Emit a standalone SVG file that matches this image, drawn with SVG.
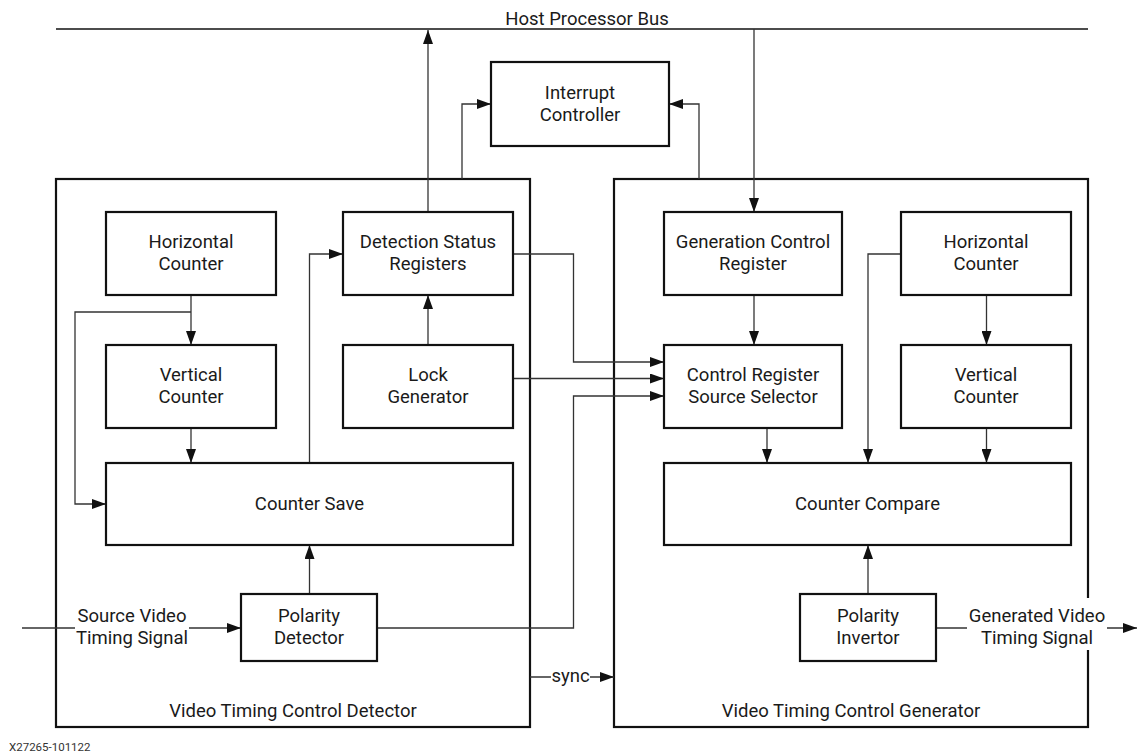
<svg xmlns="http://www.w3.org/2000/svg" width="1138" height="755" viewBox="0 0 1138 755">
<style>
  .box { fill: #fff; stroke: #111; stroke-width: 2.2; }
  .frame { fill: none; stroke: #111; stroke-width: 2.2; }
  .wire { fill: none; stroke: #333; stroke-width: 1.3; }
  .arr { marker-end: url(#ah); }
  text { font-family: Roboto, "Liberation Sans", sans-serif; font-size: 18.5px; fill: #1a1a1a; }
  .c { text-anchor: middle; }
  .bg { fill: #fff; stroke: none; }
  .fig { font-size: 11.5px; fill: #333; }
</style>
<defs>
  <marker id="ah" markerUnits="userSpaceOnUse" markerWidth="14" markerHeight="10" refX="14" refY="5" orient="auto">
    <path d="M0,0 L14,5 L0,10 z" fill="#111"/>
  </marker>
</defs>
<rect width="1138" height="755" fill="#fff"/>

<g id="bus">
  <line x1="56" y1="29" x2="1088" y2="29" stroke="#111" stroke-width="1.3"/>
  <text x="587" y="25" class="c">Host Processor Bus</text>
</g>

<g id="detector">
  <rect class="frame" x="56" y="179" width="474" height="548"/>
  <text x="293" y="717" class="c">Video Timing Control Detector</text>
</g>
<g id="generator">
  <rect class="frame" x="614" y="179" width="474" height="548"/>
  <text x="851" y="717" class="c">Video Timing Control Generator</text>
</g>

<g id="connectors">
  <path class="wire arr" d="M428,212 V30"/>
  <path class="wire arr" d="M462,179 V104 H491"/>
  <path class="wire arr" d="M699,179 V104 H669"/>
  <path class="wire arr" d="M754,29 V212"/>
  <path class="wire arr" d="M191,295 V345"/>
  <path class="wire arr" d="M191,312 H75 V504 H106"/>
  <path class="wire arr" d="M191,428 V463"/>
  <path class="wire arr" d="M309.5,463 V254 H343"/>
  <path class="wire arr" d="M428,345 V295"/>
  <path class="wire arr" d="M309.5,594 V545"/>
  <path class="wire arr" d="M22,628 H241"/>
  <path class="wire arr" d="M513,254 H573.5 V362 H664"/>
  <path class="wire arr" d="M513,378.5 H664"/>
  <path class="wire arr" d="M377,628 H573.5 V396 H664"/>
  <path class="wire arr" d="M530,677 H614"/>
  <path class="wire arr" d="M754,295 V345"/>
  <path class="wire arr" d="M901,254 H868 V463"/>
  <path class="wire arr" d="M767,428 V463"/>
  <path class="wire arr" d="M986.5,295 V345"/>
  <path class="wire arr" d="M986.5,428 V463"/>
  <path class="wire arr" d="M868,594 V545"/>
  <path class="wire arr" d="M936,628 H1137"/>
</g>

<g id="label-source">
  <rect class="bg" x="75" y="604" width="114" height="46"/>
  <text x="132" y="622" class="c">Source Video</text>
  <text x="132" y="643.5" class="c">Timing Signal</text>
</g>
<g id="label-generated">
  <rect class="bg" x="967" y="598" width="140" height="52"/>
  <text x="1037" y="622" class="c">Generated Video</text>
  <text x="1037" y="643.5" class="c">Timing Signal</text>
</g>
<g id="label-sync">
  <rect class="bg" x="551" y="668" width="39" height="20"/>
  <text x="570.5" y="681.5" class="c">sync</text>
</g>

<g id="interrupt-controller">
  <rect class="box" x="491" y="62" width="178" height="84"/>
  <text x="580" y="98.5" class="c">Interrupt</text>
  <text x="580" y="120.5" class="c">Controller</text>
</g>

<g id="det-horizontal-counter">
  <rect class="box" x="106" y="212" width="170" height="83"/>
  <text x="191" y="248" class="c">Horizontal</text>
  <text x="191" y="270" class="c">Counter</text>
</g>
<g id="detection-status-registers">
  <rect class="box" x="343" y="212" width="170" height="83"/>
  <text x="428" y="248" class="c">Detection Status</text>
  <text x="428" y="270" class="c">Registers</text>
</g>
<g id="det-vertical-counter">
  <rect class="box" x="106" y="345" width="170" height="83"/>
  <text x="191" y="381" class="c">Vertical</text>
  <text x="191" y="403" class="c">Counter</text>
</g>
<g id="lock-generator">
  <rect class="box" x="343" y="345" width="170" height="83"/>
  <text x="428" y="381" class="c">Lock</text>
  <text x="428" y="403" class="c">Generator</text>
</g>
<g id="counter-save">
  <rect class="box" x="106" y="463" width="407" height="82"/>
  <text x="309.5" y="510" class="c">Counter Save</text>
</g>
<g id="polarity-detector">
  <rect class="box" x="241" y="594" width="136" height="67"/>
  <text x="309" y="622" class="c">Polarity</text>
  <text x="309" y="644" class="c">Detector</text>
</g>

<g id="generation-control-register">
  <rect class="box" x="664" y="212" width="178" height="83"/>
  <text x="753" y="248" class="c">Generation Control</text>
  <text x="753" y="270" class="c">Register</text>
</g>
<g id="gen-horizontal-counter">
  <rect class="box" x="901" y="212" width="170" height="83"/>
  <text x="986" y="248" class="c">Horizontal</text>
  <text x="986" y="270" class="c">Counter</text>
</g>
<g id="control-register-source-selector">
  <rect class="box" x="664" y="345" width="178" height="83"/>
  <text x="753" y="381" class="c">Control Register</text>
  <text x="753" y="403" class="c">Source Selector</text>
</g>
<g id="gen-vertical-counter">
  <rect class="box" x="901" y="345" width="170" height="83"/>
  <text x="986" y="381" class="c">Vertical</text>
  <text x="986" y="403" class="c">Counter</text>
</g>
<g id="counter-compare">
  <rect class="box" x="664" y="463" width="407" height="82"/>
  <text x="867.5" y="510" class="c">Counter Compare</text>
</g>
<g id="polarity-invertor">
  <rect class="box" x="800" y="594" width="136" height="67"/>
  <text x="868" y="622" class="c">Polarity</text>
  <text x="868" y="644" class="c">Invertor</text>
</g>

<text x="9" y="751" class="fig">X27265-101122</text>
</svg>
